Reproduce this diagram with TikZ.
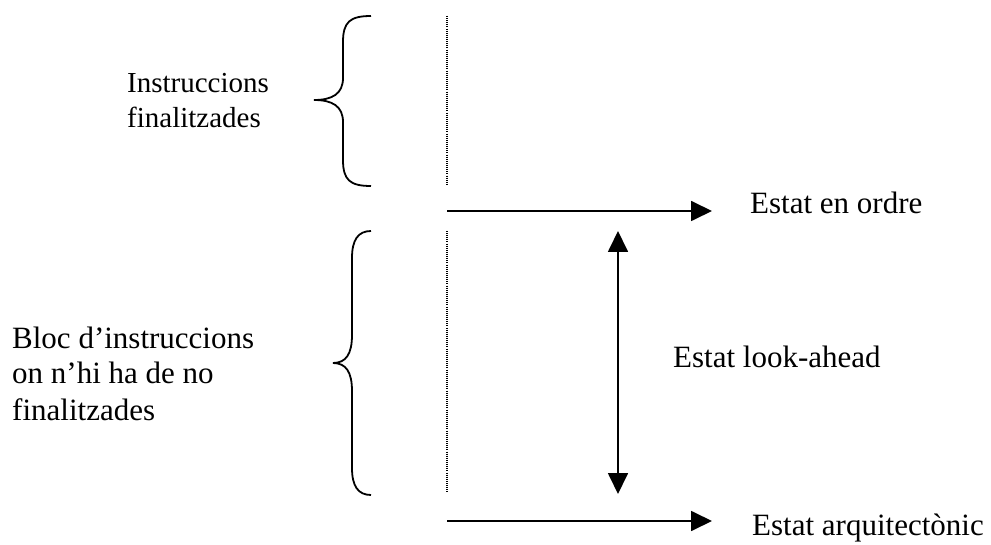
\documentclass[tikz,border=0pt]{standalone}
\usepackage{fontspec}
\setmainfont{Liberation Serif}
\usetikzlibrary{arrows.meta}
\tikzset{
  lbl/.style={inner sep=0pt, anchor=base west, align=left, font=\fontsize{31}{36}\selectfont},
  lblsmall/.style={inner sep=0pt, anchor=base west, align=left, font=\fontsize{29}{35}\selectfont},
  brace/.style={line width=1.8pt},
  dotline/.style={line width=1.1pt, dash pattern=on 1pt off 1.1pt},
  arr/.style={line width=1.8pt, -{Triangle[length=21pt,width=20pt]}},
  darr/.style={line width=1.8pt, {Triangle[length=21pt,width=20pt]}-{Triangle[length=21pt,width=20pt]}}
}
\begin{document}
\begin{tikzpicture}[x=1pt,y=-1pt]
\useasboundingbox (0,0) rectangle (991,545);
% points
\coordinate (d1a) at (447,16);
\coordinate (d1b) at (447,186);
\coordinate (d2a) at (447,231);
\coordinate (d2b) at (447,493);
\coordinate (a1s) at (447,211);
\coordinate (a1e) at (712,211);
\coordinate (a2s) at (447,521);
\coordinate (a2e) at (712,521);
\coordinate (la) at (618,231);
\coordinate (lb) at (618,494);
% braces
\draw[brace] (371,16) .. controls (350,16) and (343,22) .. (343,42) -- (343,78)
  .. controls (343,94) and (332,100) .. (314,100)
  .. controls (332,100) and (343,106) .. (343,122) -- (343,160)
  .. controls (343,180) and (350,186) .. (371,186);
\draw[brace] (371,231) .. controls (358,231) and (352,240) .. (352,258) -- (352,335)
  .. controls (352,354) and (346,363) .. (333,363)
  .. controls (346,363) and (352,372) .. (352,391) -- (352,468)
  .. controls (352,486) and (358,495) .. (371,495);
% dotted lines
\draw[dotline] (d1a) -- (d1b);
\draw[dotline] (d2a) -- (d2b);
% arrows
\draw[arr] (a1s) -- (a1e);
\draw[arr] (a2s) -- (a2e);
\draw[darr] (la) -- (lb);
% labels (base anchor = baseline of last line)
\node[lblsmall] (tfin) at (127,128) {Instruccions\\finalitzades};
\node[lbl] (tbloc) at (12,420) {Bloc d’instruccions\\on n’hi ha de no\\finalitzades};
\node[lbl] (tord) at (750,214) {Estat en ordre};
\node[lbl] (tlook) at (673,367) {Estat look-ahead};
\node[lbl] (tarq) at (752,535) {Estat arquitectònic};
\end{tikzpicture}
\end{document}
